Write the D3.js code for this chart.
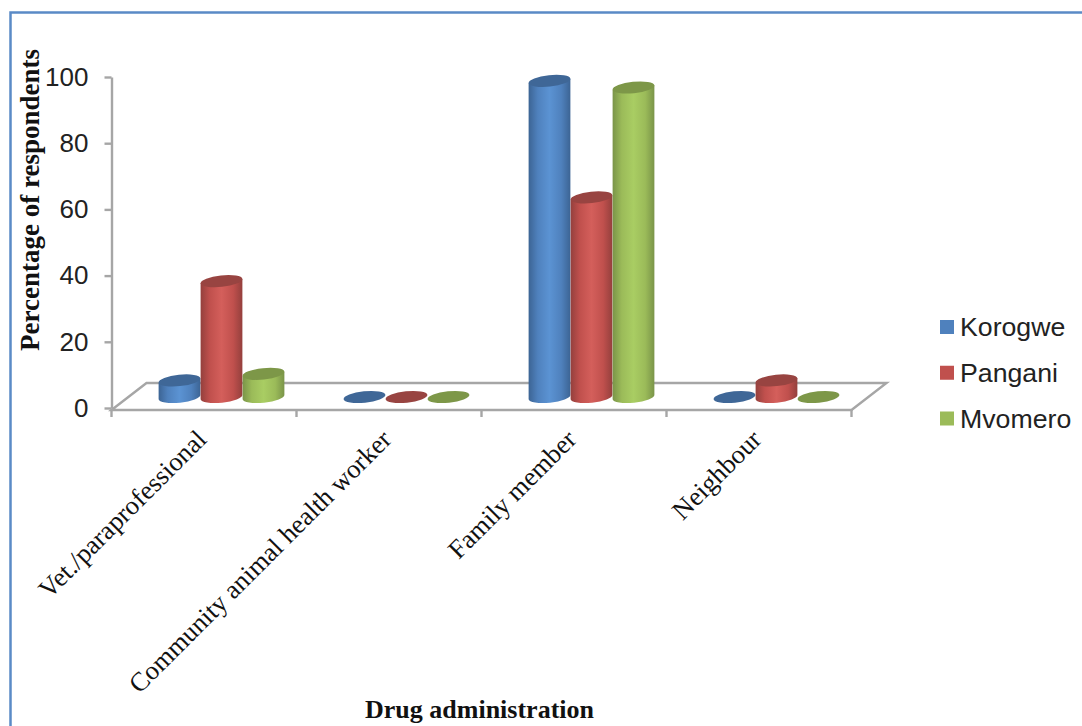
<!DOCTYPE html>
<html>
<head>
<meta charset="utf-8">
<script src="https://cdn.jsdelivr.net/npm/d3@7/dist/d3.min.js"></script>
<style>
html,body{margin:0;padding:0;background:#fff;overflow:hidden}
svg{display:block}
</style>
</head>
<body>
<svg id="chart" width="1082" height="726"></svg>
<script>
const categories = ["Vet./paraprofessional", "Community animal health worker", "Family member", "Neighbour"];
const seriesNames = ["Korogwe", "Pangani", "Mvomero"];
const korogwe = [5, 0, 95.5, 0];
const pangani = [35, 0, 60.3, 5];
const mvomero = [7, 0, 93.5, 0];
const yTicks = [0, 20, 40, 60, 80, 100];
const seriesValues = [korogwe, pangani, mvomero];

const faceColors = ["#4f81bd", "#c0504d", "#9bbb59"];
const lightColors = ["#5b93d3", "#d45f5b", "#a9cd63"];
const darkColors = ["#3c6494", "#94403d", "#7a9449"];
const topColors = ["#3f6797", "#984441", "#7d9748"];

const svg = d3.select("#chart");
const axisGray = "#a6a6a6";

// Chart frame: only the top and left edges fall inside the page
svg.append("path")
  .attr("d", "M10.5,726V12.5H1082")
  .attr("fill", "none").attr("stroke", "#5a8ac6").attr("stroke-width", 2.5);

const y = d3.scaleLinear().domain([0, 100]).range([408, 77]);
const x0 = d3.scaleBand().domain(categories).range([111.5, 851.5]);
const depth = { dx: 35, dy: -27 };
const baseY = 410;

// Cylinders sit part-way back on the floor, so the value origin is shifted up
const floorLift = y(0) - 397;
const cluster = d3.scaleBand().domain(seriesNames).range([47, 173]).padding(0);

// Horizontal shading for each cylinder body
const defs = svg.append("defs");
seriesNames.forEach((name, i) => {
  const g = defs.append("linearGradient").attr("id", "body" + i);
  [[0, darkColors[i]], [0.22, faceColors[i]], [0.5, lightColors[i]], [0.78, faceColors[i]], [1, darkColors[i]]]
    .forEach(([o, c]) => g.append("stop").attr("offset", o).attr("stop-color", c));
});

// Floor outline
const left = x0.range()[0], right = x0.range()[1];
svg.append("path")
  .attr("d", `M${left},${baseY}L${left + depth.dx},${baseY + depth.dy}H${right + depth.dx}L${right},${baseY}Z`)
  .attr("fill", "none").attr("stroke", axisGray).attr("stroke-width", 2.4);

// Value axis
const yAxis = svg.append("g").attr("transform", `translate(${left},0)`)
  .call(d3.axisLeft(y).tickValues(yTicks).tickSize(7).tickSizeOuter(0).tickPadding(16));
yAxis.selectAll("path,line").attr("stroke", axisGray).attr("stroke-width", 2.4);
yAxis.selectAll("text").attr("font-family", "Liberation Sans").attr("font-size", 26).attr("fill", "#222");

// Category ticks along the front edge of the floor
const tickXs = categories.map(c => x0(c)).concat(right);
svg.append("g").selectAll("line").data(tickXs).join("line")
  .attr("x1", d => d).attr("x2", d => d).attr("y1", baseY).attr("y2", baseY + 7)
  .attr("stroke", axisGray).attr("stroke-width", 2.4);

// Cylinders, series by series so later ones overlap earlier ones
const rx = 21, ry = 5.7, tilt = -6;
const tiltRad = tilt * Math.PI / 180;
const ex = rx * Math.cos(tiltRad), ey = rx * Math.sin(tiltRad);
categories.forEach((cat, c) => {
  seriesNames.forEach((name, s) => {
    const cx = x0(cat) + cluster(name) + cluster.bandwidth() / 2;
    const value = seriesValues[s][c];
    const yBottom = y(0) - floorLift;
    const yTop = y(value) - floorLift;
    const group = svg.append("g");
    if (value > 0) {
      group.append("path")
        .attr("d", `M${cx - ex},${yTop - ey}L${cx - ex},${yBottom - ey}` +
          `A${rx},${ry} ${tilt} 0 0 ${cx + ex},${yBottom + ey}` +
          `L${cx + ex},${yTop + ey}Z`)
        .attr("fill", `url(#body${s})`);
    }
    group.append("ellipse")
      .attr("cx", cx).attr("cy", yTop)
      .attr("rx", rx).attr("ry", ry)
      .attr("transform", `rotate(${tilt} ${cx} ${yTop})`)
      .attr("fill", topColors[s]);
  });
});

// Rotated category labels ending under each group
svg.append("g").selectAll("text").data(categories).join("text")
  .attr("transform", d => `translate(${x0(d) + x0.bandwidth() / 2 + 4},441) rotate(-45)`)
  .attr("text-anchor", "end")
  .attr("font-family", "Liberation Serif").attr("font-size", 26.5).attr("fill", "#111")
  .text(d => d);

// Axis titles
svg.append("text")
  .attr("transform", "translate(39,200) rotate(-90)")
  .attr("text-anchor", "middle")
  .attr("font-family", "Liberation Serif").attr("font-weight", "bold").attr("font-size", 27).attr("fill", "#111")
  .text("Percentage of respondents");
svg.append("text")
  .attr("x", 479.5).attr("y", 718).attr("text-anchor", "middle")
  .attr("font-family", "Liberation Serif").attr("font-weight", "bold").attr("font-size", 26).attr("fill", "#111")
  .text("Drug administration");

// Legend
const legendY = d3.scalePoint().domain(seriesNames).range([327, 418.5]);
const legend = svg.append("g").selectAll("g").data(seriesNames).join("g")
  .attr("transform", d => `translate(940,${legendY(d)})`);
legend.append("rect").attr("x", 0).attr("y", -7).attr("width", 14).attr("height", 14)
  .attr("fill", (d, i) => faceColors[i]);
legend.append("text").attr("x", 20).attr("y", 9)
  .attr("font-family", "Liberation Sans").attr("font-size", 26.7).attr("fill", "#222")
  .text(d => d);
</script>
</body>
</html>
